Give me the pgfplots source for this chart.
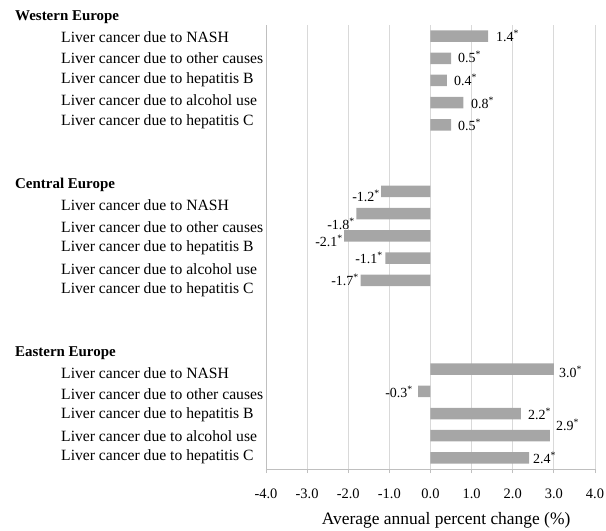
\documentclass[border=0pt]{standalone}
\usepackage{pgfplots}
\pgfplotsset{compat=1.18}
\usepackage{fontspec}
\setmainfont{Liberation Serif}
\definecolor{barg}{HTML}{A6A6A6}
\definecolor{gridg}{HTML}{D9D9D9}
\definecolor{axg}{HTML}{BFBFBF}
\newcommand{\catfont}{\fontsize{15.7}{18}\selectfont}
\newcommand{\hdfont}{\bfseries\fontsize{15}{18}\selectfont}
\newcommand{\valfont}{\fontsize{14}{16}\selectfont}
\tikzset{
  hd/.style={anchor=west, inner sep=0, font=\hdfont, xshift=-251bp},
  cat/.style={anchor=west, inner sep=0, font=\catfont, xshift=-205bp},
  vw/.style={anchor=west, inner sep=0, font=\valfont},
  ve/.style={anchor=east, inner sep=0, font=\valfont},
}
\begin{document}
\begin{tikzpicture}
\useasboundingbox (-266bp,-62bp) rectangle (340bp,469bp);
\begin{axis}[
  at={(0,0)}, anchor=south west,
  scale only axis, width=329bp, height=444bp,
  xmin=-4, xmax=4, ymin=-0.5, ymax=19.5,
  axis x line*=bottom, axis y line*=left,
  axis line style={axg, -, line width=0.8bp},
  xtick={-4,-3,-2,-1,0,1,2,3,4},
  xticklabels={-4.0,-3.0,-2.0,-1.0,0.0,1.0,2.0,3.0,4.0},
  ytick=\empty,
  tick align=outside, major tick length=4bp,
  tick style={axg, line width=0.8bp},
  xmajorgrids, grid style={gridg, line width=0.8bp},
  xticklabel style={font=\fontsize{14.5}{17}\selectfont, anchor=center, yshift=-21bp},
  xlabel={Average annual percent change (\%)},
  xlabel style={font=\fontsize{17.5}{20}\selectfont, at={(axis cs:0.38,-0.5)}, anchor=center, yshift=-51bp},
  clip=false,
]
\addplot[xbar, fill=barg, draw=none, bar width=11.5bp] coordinates {
 (1.4,19) (0.5,18) (0.4,17) (0.8,16) (0.5,15)
 (-1.2,12) (-1.8,11) (-2.1,10) (-1.1,9) (-1.7,8)
 (3.0,4) (-0.3,3) (2.2,2) (2.9,1) (2.4,0)};

% group headers
\node[hd] at (axis cs:-4,19.86) {Western Europe};
\node[hd] at (axis cs:-4,12.29) {Central Europe};
\node[hd] at (axis cs:-4,4.73) {Eastern Europe};

% category labels
\node[cat] at (axis cs:-4,18.96) {Liver cancer due to NASH};
\node[cat] at (axis cs:-4,17.99) {Liver cancer due to other causes};
\node[cat] at (axis cs:-4,17.05) {Liver cancer due to hepatitis B};
\node[cat] at (axis cs:-4,16.10) {Liver cancer due to alcohol use};
\node[cat] at (axis cs:-4,15.15) {Liver cancer due to hepatitis C};
\node[cat] at (axis cs:-4,11.39) {Liver cancer due to NASH};
\node[cat] at (axis cs:-4,10.40) {Liver cancer due to other causes};
\node[cat] at (axis cs:-4,9.45) {Liver cancer due to hepatitis B};
\node[cat] at (axis cs:-4,8.51) {Liver cancer due to alcohol use};
\node[cat] at (axis cs:-4,7.56) {Liver cancer due to hepatitis C};
\node[cat] at (axis cs:-4,3.82) {Liver cancer due to NASH};
\node[cat] at (axis cs:-4,2.88) {Liver cancer due to other causes};
\node[cat] at (axis cs:-4,1.93) {Liver cancer due to hepatitis B};
\node[cat] at (axis cs:-4,0.99) {Liver cancer due to alcohol use};
\node[cat] at (axis cs:-4,0.05) {Liver cancer due to hepatitis C};

% value labels
\node[vw] at (axis cs:1.593,19.0) {1.4\textsuperscript{*}};
\node[vw] at (axis cs:0.669,18.06) {0.5\textsuperscript{*}};
\node[vw] at (axis cs:0.572,17.02) {0.4\textsuperscript{*}};
\node[vw] at (axis cs:0.985,15.99) {0.8\textsuperscript{*}};
\node[vw] at (axis cs:0.669,15.0) {0.5\textsuperscript{*}};
\node[ve] at (axis cs:-1.228,11.80) {-1.2\textsuperscript{*}};
\node[ve] at (axis cs:-1.836,10.54) {-1.8\textsuperscript{*}};
\node[ve] at (axis cs:-2.128,9.77) {-2.1\textsuperscript{*}};
\node[ve] at (axis cs:-1.155,9.0) {-1.1\textsuperscript{*}};
\node[ve] at (axis cs:-1.739,8.01) {-1.7\textsuperscript{*}};
\node[vw] at (axis cs:3.125,3.87) {3.0\textsuperscript{*}};
\node[ve] at (axis cs:-0.426,2.97) {-0.3\textsuperscript{*}};
\node[vw] at (axis cs:2.371,1.98) {2.2\textsuperscript{*}};
\node[vw] at (axis cs:3.052,1.48) {2.9\textsuperscript{*}};
\node[vw] at (axis cs:2.492,0.0) {2.4\textsuperscript{*}};
\end{axis}
\end{tikzpicture}
\end{document}
